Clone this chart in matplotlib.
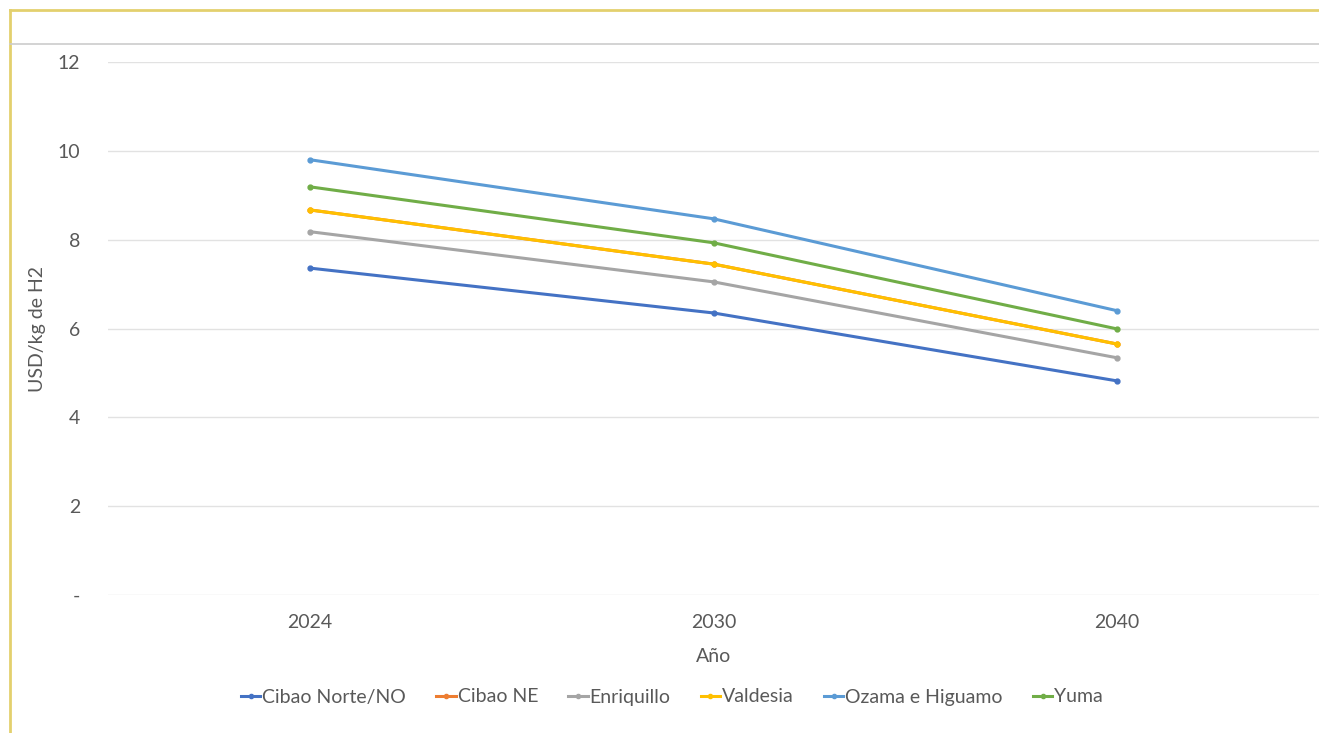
import matplotlib
matplotlib.use("Agg")
import matplotlib.pyplot as plt
from matplotlib.lines import Line2D

# Costo nivelado del hidrógeno por región
anios = ["2024", "2030", "2040"]
cibao_norte = [7.36, 6.35, 4.82]
cibao_ne = [8.67, 7.45, 5.65]
enriquillo = [8.18, 7.05, 5.34]
valdesia = [8.67, 7.45, 5.65]
ozama = [9.80, 8.47, 6.40]
yuma = [9.19, 7.93, 5.99]

series = [
    ("Cibao Norte/NO", cibao_norte, "#4472C4"),
    ("Cibao NE", cibao_ne, "#ED7D31"),
    ("Enriquillo", enriquillo, "#A5A5A5"),
    ("Valdesia", valdesia, "#FFC000"),
    ("Ozama e Higuamo", ozama, "#5B9BD5"),
    ("Yuma", yuma, "#70AD47"),
]

plt.rcParams['font.family'] = ['Lato', 'DejaVu Sans']
texto = "#595959"

fig = plt.figure(figsize=(13.19, 7.33), dpi=100)
ax = fig.add_axes([108 / 1319, 1 - 595 / 733, (1319 - 108) / 1319, (595 - 62) / 733])

x = range(len(anios))
for nombre, valores, color in series:
    ax.plot(x, valores, color=color, lw=2.2, marker="o", ms=3.5, label=nombre,
            solid_capstyle="round")

ax.set_xlim(-0.5, 2.5)
ax.set_ylim(0, 12)
ax.set_xticks(list(x))
ax.set_xticklabels(anios)
ax.set_yticks([0, 2, 4, 6, 8, 10, 12])
ax.set_yticklabels(["-", "2", "4", "6", "8", "10", "12"])
ax.grid(axis="y", color="#e2e2e2", lw=1)
ax.set_axisbelow(True)
for s in ax.spines.values():
    s.set_visible(False)
ax.tick_params(length=0, labelsize=14, colors=texto, pad=14)
ax.tick_params(axis="y", pad=20)

ax.set_xlabel("Año", fontsize=14, color=texto, labelpad=12)
ax.set_ylabel("USD/kg de H2", fontsize=14, color=texto, labelpad=8)

handles = [Line2D([], [], color=c, lw=2.2, marker="o", ms=3) for _, _, c in series]
fig.legend(handles, [n for n, _, _ in series], loc="center", ncol=6,
           bbox_to_anchor=(672 / 1319, 1 - 697 / 733), frameon=False,
           fontsize=14, handlelength=1.0, handletextpad=0.1, columnspacing=1.55,
           labelcolor=texto)

# marco del gráfico
fig.add_artist(Line2D([10 / 1319, 10 / 1319], [0, 1 - 10 / 733],
                      transform=fig.transFigure, color="#E3D06E", lw=2))
fig.add_artist(Line2D([10 / 1319, 1], [1 - 10 / 733, 1 - 10 / 733],
                      transform=fig.transFigure, color="#E3D06E", lw=2))
fig.add_artist(Line2D([10 / 1319, 1], [1 - 44 / 733, 1 - 44 / 733],
                      transform=fig.transFigure, color="#cccccc", lw=1.2))

fig.savefig("out.png", dpi=100)
